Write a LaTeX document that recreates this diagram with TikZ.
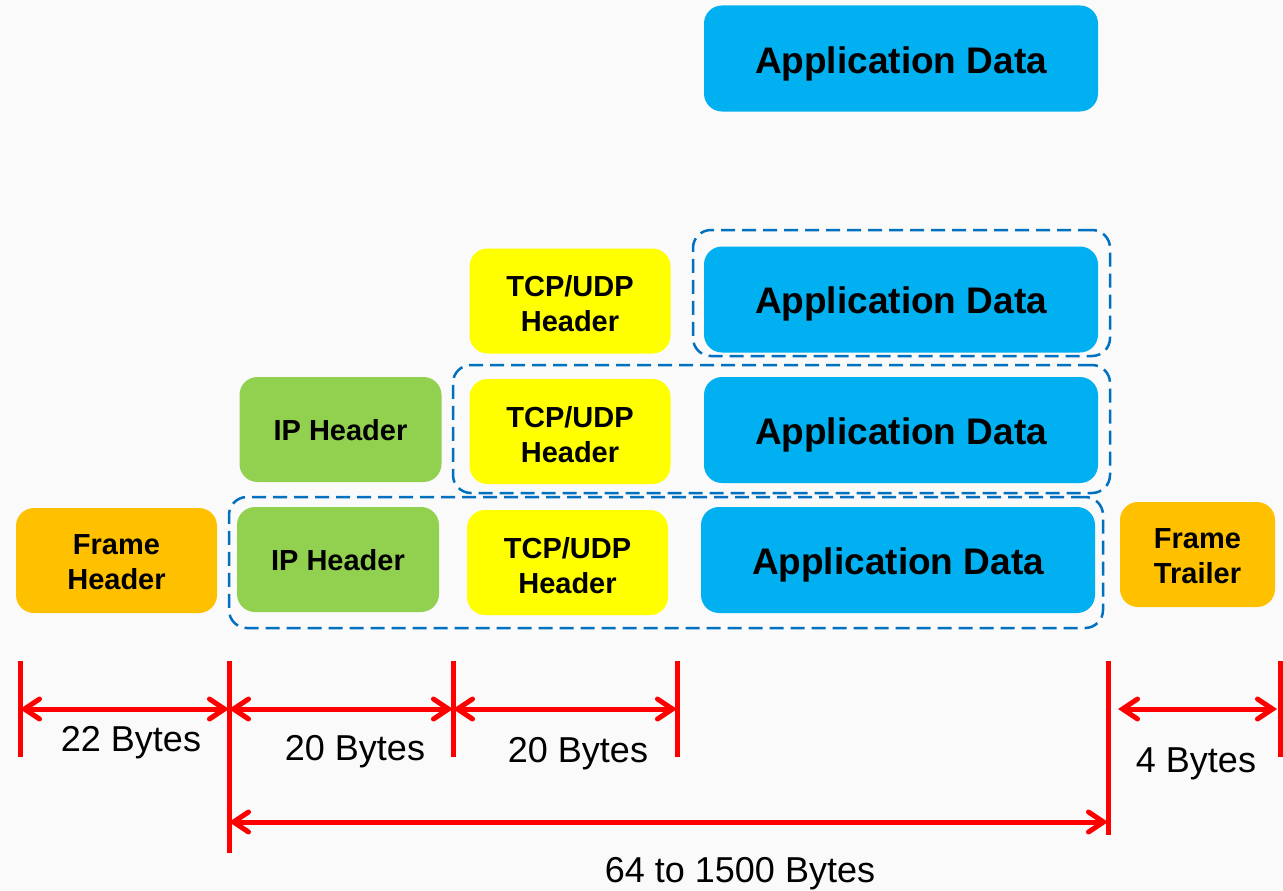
\documentclass[tikz,border=0pt]{standalone}
\usepackage{fontspec}
\setmainfont{Liberation Sans}
\usetikzlibrary{arrows.meta}
\definecolor{bgc}{HTML}{FAFAFA}
\definecolor{appc}{HTML}{00B0F0}
\definecolor{ipc}{HTML}{92D050}
\definecolor{tcpc}{HTML}{FFFF00}
\definecolor{framec}{HTML}{FFC000}
\definecolor{dashc}{HTML}{0070C0}
\definecolor{dimc}{HTML}{FF0000}
\tikzset{
  blk/.style={rounded corners=18pt, inner sep=0pt},
  appbox/.style={blk, fill=appc, minimum width=394pt, minimum height=106pt},
  ipbox/.style={blk, fill=ipc, minimum width=202pt, minimum height=105pt},
  tcpbox/.style={blk, fill=tcpc, minimum width=201pt, minimum height=105pt},
  framebox/.style={blk, fill=framec, minimum height=105pt},
  btxt/.style={inner sep=0pt, align=center, text=black, font=\bfseries\fontsize{29}{35}\selectfont},
  apptxt/.style={btxt, font=\bfseries\fontsize{37}{44}\selectfont},
  grp/.style={draw=dashc, line width=2.5pt, dash pattern=on 14pt off 7pt, rounded corners=18pt, inner sep=0pt},
  tick/.style={draw=dimc, line width=5pt},
  dim/.style={draw=dimc, line width=5pt, {Straight Barb[length=15pt,width=20pt,line cap=round]}-{Straight Barb[length=15pt,width=20pt,line cap=round]}},
  lab/.style={anchor=base, inner sep=0pt, font=\fontsize{36}{43}\selectfont}
}
\begin{document}
\begin{tikzpicture}[x=1pt,y=-1pt]
\fill[bgc] (0,0) rectangle (1283,891);
\useasboundingbox (0,0) rectangle (1283,891);
% top
\node[appbox] (a0) at (901,58.5) {};
\node[apptxt] (a0t) at ([yshift=-5pt]a0.center) {Application Data};
% row 2
\node[tcpbox] (t2) at (570,301) {};
\node[btxt] (t2t) at ([yshift=-3pt]t2.center) {TCP/UDP\\Header};
\node[appbox] (a2) at (901,299.5) {};
\node[apptxt] (a2t) at ([yshift=-4pt]a2.center) {Application Data};
\node[grp, minimum width=417pt, minimum height=126pt] (g2) at (901.5,293) {};
% row 3
\node[ipbox] (i3) at (340.5,429.5) {};
\node[btxt] (i3t) at ([yshift=-1pt]i3.center) {IP Header};
\node[tcpbox] (t3) at (570,431.5) {};
\node[btxt] (t3t) at ([yshift=-3pt]t3.center) {TCP/UDP\\Header};
\node[appbox] (a3) at (901,430) {};
\node[apptxt] (a3t) at ([yshift=-5pt]a3.center) {Application Data};
\node[grp, minimum width=657pt, minimum height=128pt] (g3) at (781.5,429) {};
% row 4
\node[framebox, minimum width=201pt] (fh) at (116.5,560.5) {};
\node[btxt] (fht) at ([yshift=-2pt]fh.center) {Frame\\Header};
\node[ipbox] (i4) at (338,559.5) {};
\node[btxt] (i4t) at ([yshift=-1pt]i4.center) {IP Header};
\node[tcpbox] (t4) at (567.5,562.5) {};
\node[btxt] (t4t) at ([yshift=-3pt]t4.center) {TCP/UDP\\Header};
\node[appbox] (a4) at (898,560) {};
\node[apptxt] (a4t) at ([yshift=-5pt]a4.center) {Application Data};
\node[framebox, minimum width=155pt] (ft) at (1197.5,554.5) {};
\node[btxt] (ftt) at ([yshift=-2pt]ft.center) {Frame\\Trailer};
\node[grp, minimum width=874pt, minimum height=131pt] (g4) at (666,562.5) {};
% ticks
\coordinate (v1t) at (20,661);   \coordinate (v1b) at (20,757);
\coordinate (v2t) at (229,661);  \coordinate (v2b) at (229,853);
\coordinate (v3t) at (453,661);  \coordinate (v3b) at (453,757);
\coordinate (v4t) at (677,661);  \coordinate (v4b) at (677,757);
\coordinate (v5t) at (1108,661); \coordinate (v5b) at (1108,835);
\coordinate (v6t) at (1280,661); \coordinate (v6b) at (1280,757);
\foreach \i in {1,...,6} \draw[tick] (v\i t) -- (v\i b);
% dimension arrows
\coordinate (d1) at (20,709);
\coordinate (d2) at (229,709);
\coordinate (d3) at (453,709);
\coordinate (d4) at (677,709);
\coordinate (d5) at (1118,709);
\coordinate (d6) at (1277,709);
\coordinate (e1) at (229,822);
\coordinate (e2) at (1108,822);
\draw[dim] (d1) -- (d2);
\draw[dim] (d2) -- (d3);
\draw[dim] (d3) -- (d4);
\draw[dim] (d5) -- (d6);
\draw[dim] (e1) -- (e2);
% labels
\node[lab] (l1) at (131,751) {22 Bytes};
\node[lab] (l2) at (355,760) {20 Bytes};
\node[lab] (l3) at (578,762) {20 Bytes};
\node[lab] (l4) at (1196,772) {4 Bytes};
\node[lab] (l5) at (740,882) {64 to 1500 Bytes};
\end{tikzpicture}
\end{document}
